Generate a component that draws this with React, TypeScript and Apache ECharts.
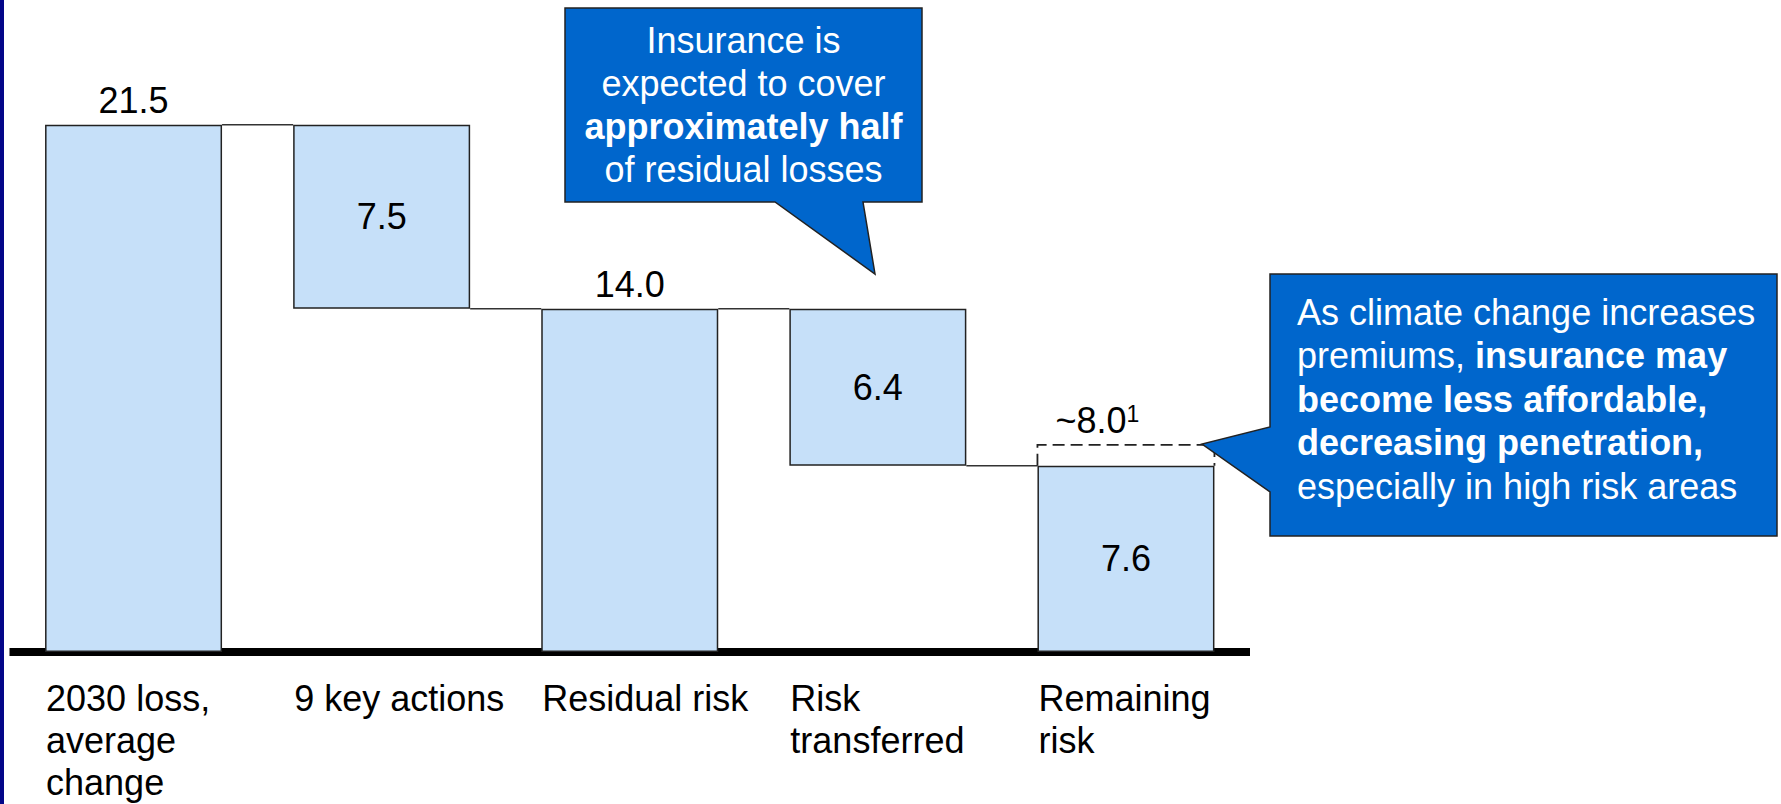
import React, { useEffect, useRef } from 'react';
import * as echarts from 'echarts';

// ---- data ----
const categories = ['2030 loss,\naverage\nchange', '9 key actions', 'Residual risk', 'Risk\ntransferred', 'Remaining\nrisk'];
const stepValues = [21.5, 7.5, 14.0, 6.4, 7.6];
const stepKinds = ['total', 'decrease', 'total', 'decrease', 'total'];
const valueLabels = ['21.5', '7.5', '14.0', '6.4', '7.6'];
const labelPlacement = ['top', 'inside', 'top', 'inside', 'inside'];
const uncertaintyIndex = [4];
const uncertaintyTop = [8.45];
const uncertaintyLabel = ['~8.0'];
const uncertaintyNote = ['1'];
const yMin = 0;
const yMax = 25;

const callout1Lines = ['Insurance is', 'expected to cover', '{b|approximately half}', 'of residual losses'];
const callout2Lines = [
  'As climate change increases',
  'premiums, {b|insurance may}',
  '{b|become less affordable,}',
  '{b|decreasing penetration,}',
  'especially in high risk areas',
];

// derived waterfall bases / levels
const bases: number[] = [];
const levels: number[] = [];
{
  let level = 0;
  stepValues.forEach((v, i) => {
    if (stepKinds[i] === 'total') {
      bases.push(0);
      level = v;
    } else {
      level = level - v;
      bases.push(level);
    }
    levels.push(level);
  });
}

const FONT = "'Liberation Sans', Arial, Helvetica, sans-serif";
const BAR_W = 177;
const BAR_FILL = '#C6E0F9';
const EDGE = '#222222';
const CALLOUT_FILL = '#0066CC';

export default function App() {
  const ref = useRef<HTMLDivElement>(null);

  useEffect(() => {
    if (!ref.current) return;
    const chart = echarts.init(ref.current, undefined, { renderer: 'svg' });

    const richWhite = (lh: number) => ({
      n: { fontSize: 36, fontFamily: FONT, fill: '#ffffff', color: '#ffffff', lineHeight: lh },
      b: { fontSize: 36, fontFamily: FONT, fontWeight: 'bold', fill: '#ffffff', color: '#ffffff', lineHeight: lh },
    });
    const wrapN = (s: string) =>
      s
        .split(/(\{b\|[^}]*\})/)
        .filter((p) => p.length > 0)
        .map((p) => (p.startsWith('{b|') ? p : `{n|${p}}`))
        .join('');

    const option: any = {
      animation: false,
      backgroundColor: '#ffffff',
      grid: { left: 9.5, right: 531, top: 39, bottom: 152, containLabel: false },
      xAxis: {
        type: 'category',
        data: categories,
        offset: 4,
        axisLine: { show: true, lineStyle: { color: '#000000', width: 8, cap: 'butt' } },
        axisTick: { show: false },
        axisLabel: { show: false },
        splitLine: { show: false },
      },
      yAxis: {
        type: 'value',
        min: yMin,
        max: yMax,
        show: false,
        splitLine: { show: false },
      },
      series: [
        {
          name: 'base',
          type: 'bar',
          stack: 'wf',
          barWidth: BAR_W,
          silent: true,
          itemStyle: { color: 'rgba(0,0,0,0)', borderWidth: 0 },
          data: bases,
        },
        {
          name: 'value',
          type: 'bar',
          stack: 'wf',
          barWidth: BAR_W,
          itemStyle: { color: BAR_FILL, borderColor: EDGE, borderWidth: 1.5 },
          label: {
            show: true,
            fontSize: 36,
            fontFamily: FONT,
            color: '#000000',
            distance: 6,
          },
          data: stepValues.map((v, i) => ({
            value: v,
            label: { position: labelPlacement[i], formatter: valueLabels[i] },
          })),
          z: 3,
        },
        {
          name: 'connectors',
          type: 'custom',
          silent: true,
          data: levels.slice(0, levels.length - 1).map((lv, i) => [i, lv]),
          renderItem: (params: any, api: any) => {
            const i = api.value(0);
            const lv = api.value(1);
            const p1 = api.coord([i, lv]);
            const p2 = api.coord([i + 1, lv]);
            return {
              type: 'line',
              shape: { x1: p1[0] + BAR_W / 2, y1: p1[1], x2: p2[0] - BAR_W / 2, y2: p2[1] },
              style: { stroke: '#333333', lineWidth: 1.5 },
            };
          },
          z: 4,
        },
        {
          name: 'uncertainty',
          type: 'custom',
          silent: true,
          data: uncertaintyIndex.map((idx, k) => [idx, stepValues[idx], uncertaintyTop[k], k]),
          renderItem: (params: any, api: any) => {
            const idx = api.value(0);
            const lo = api.coord([idx, api.value(1)]);
            const hi = api.coord([idx, api.value(2)]);
            const k = api.value(3);
            const l = lo[0] - BAR_W / 2;
            const r = lo[0] + BAR_W / 2;
            return {
              type: 'group',
              children: [
                {
                  type: 'polyline',
                  shape: { points: [[l, lo[1]], [l, hi[1]], [r, hi[1]], [r, lo[1]]] },
                  style: { stroke: '#222222', lineWidth: 1.8, fill: 'none', lineDash: [12, 6] },
                },
                {
                  type: 'text',
                  x: l + 18,
                  y: hi[1] - 24,
                  style: {
                    text: `{m|${uncertaintyLabel[k]}}{s|${uncertaintyNote[k]}}`,
                    align: 'left',
                    verticalAlign: 'middle',
                    rich: {
                      m: { fontSize: 36, fontFamily: FONT, fill: '#000000', lineHeight: 36 },
                      s: { fontSize: 23, fontFamily: FONT, fill: '#000000', verticalAlign: 'top', lineHeight: 36 },
                    },
                  },
                },
              ],
            };
          },
          z: 5,
        },
        {
          name: 'categoryLabels',
          type: 'custom',
          silent: true,
          data: categories.map((c, i) => [i, 0]),
          renderItem: (params: any, api: any) => {
            const i = api.value(0);
            const p = api.coord([i, 0]);
            return {
              type: 'text',
              x: p[0] - BAR_W / 2 + 1,
              y: p[1] + 25,
              style: {
                text: categories[params.dataIndex],
                fontSize: 36,
                fontFamily: FONT,
                fill: '#000000',
                lineHeight: 42.3,
                align: 'left',
                verticalAlign: 'top',
              },
            };
          },
          z: 5,
        },
      ],
      graphic: [
        {
          type: 'rect',
          silent: true,
          shape: { x: 0, y: 0, width: 4, height: 804 },
          style: { fill: '#030689' },
          z: 100,
        },
        {
          type: 'polygon',
          silent: true,
          shape: {
            points: [
              [565, 8],
              [922, 8],
              [922, 202],
              [863, 202],
              [875, 274],
              [775, 202],
              [565, 202],
            ],
          },
          style: { fill: CALLOUT_FILL, stroke: '#222222', lineWidth: 1.5 },
          z: 100,
        },
        {
          type: 'text',
          silent: true,
          x: 743.5,
          y: 105,
          style: {
            text: callout1Lines.map(wrapN).join('\n'),
            align: 'center',
            verticalAlign: 'middle',
            fontSize: 36,
            fontFamily: FONT,
            fill: '#ffffff',
            lineHeight: 43,
            rich: richWhite(43),
          },
          z: 101,
        },
        {
          type: 'polygon',
          silent: true,
          shape: {
            points: [
              [1270, 274],
              [1777, 274],
              [1777, 536],
              [1270, 536],
              [1270, 492],
              [1202, 444],
              [1270, 427],
            ],
          },
          style: { fill: CALLOUT_FILL, stroke: '#222222', lineWidth: 1.5 },
          z: 100,
        },
        {
          type: 'text',
          silent: true,
          x: 1297,
          y: 399,
          style: {
            text: callout2Lines.map(wrapN).join('\n'),
            align: 'left',
            verticalAlign: 'middle',
            fontSize: 36,
            fontFamily: FONT,
            fill: '#ffffff',
            lineHeight: 43.5,
            rich: richWhite(43.5),
          },
          z: 101,
        },
      ],
    };

    chart.setOption(option);
    return () => {
      chart.dispose();
    };
  }, []);

  return (
    <div
      ref={ref}
      style={{ position: 'fixed', left: 0, top: 0, width: 1781, height: 804, background: '#ffffff' }}
    />
  );
}
